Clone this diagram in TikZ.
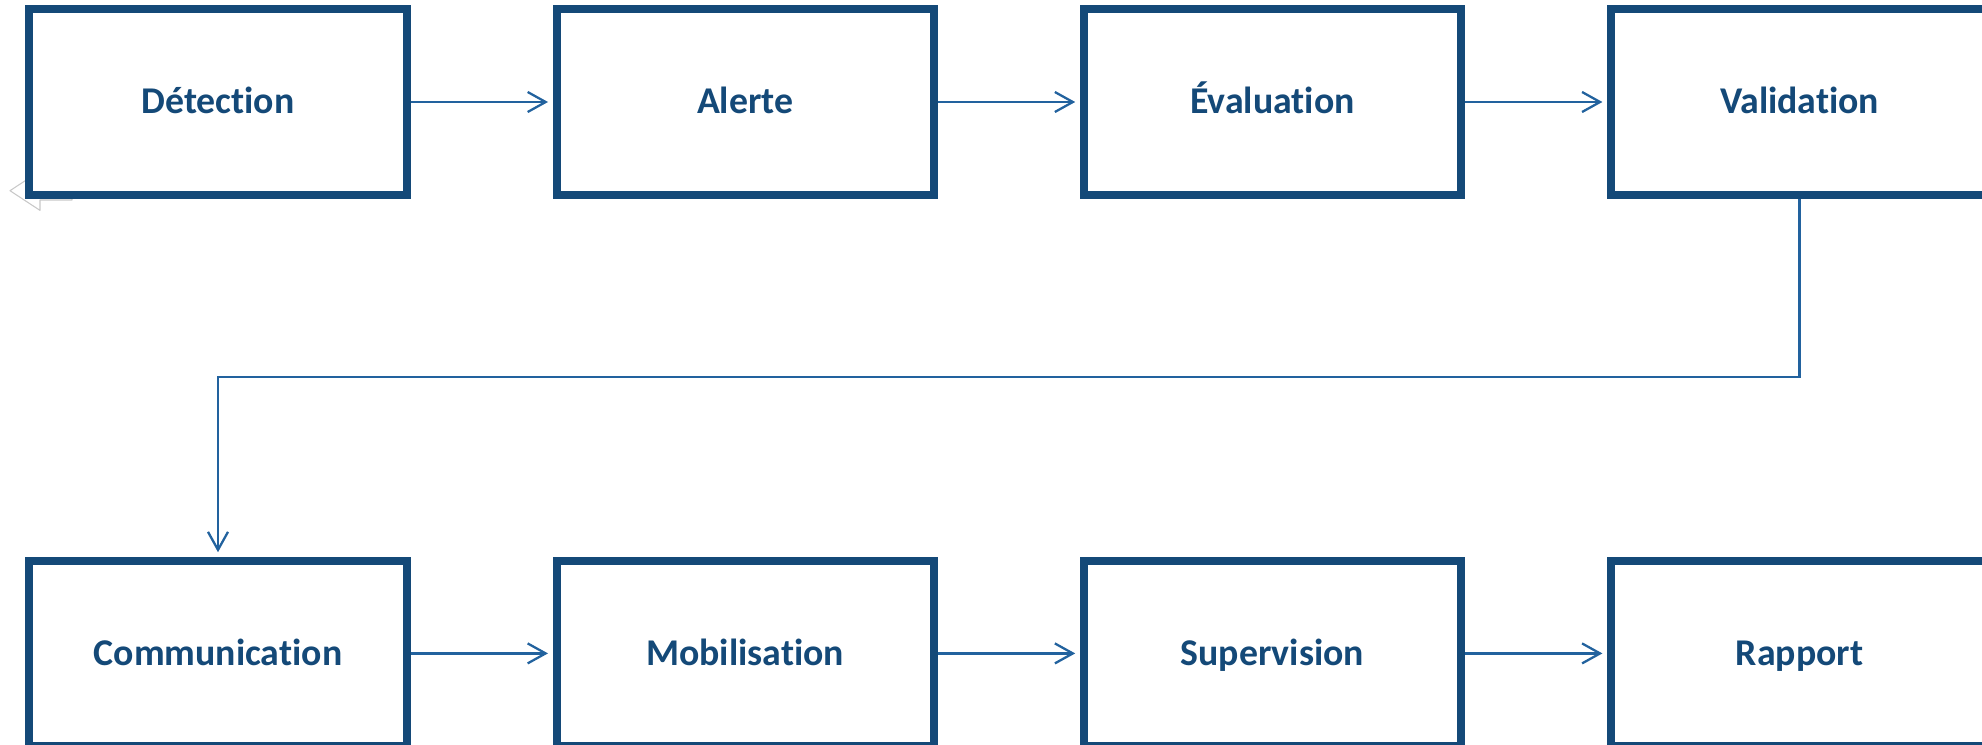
\documentclass[tikz,border=0pt]{standalone}
\usepackage{fontspec}
\setmainfont[Ligatures=NoCommon]{Carlito}
\usepackage{tikz}
\usetikzlibrary{positioning,calc,arrows.meta}

\definecolor{boxblue}{RGB}{20,73,120}
\definecolor{linkblue}{RGB}{34,98,158}
\definecolor{ghostgrey}{RGB}{200,200,200}

\tikzset{
  stepbox/.style={draw=boxblue, line width=4.55pt, fill=white, rectangle,
    minimum width=7.548cm, minimum height=3.708cm, inner sep=0pt,
    text=boxblue, font=\fontsize{21.5}{25}\selectfont\bfseries,
    text height=0.52cm, text depth=0.04cm},
  link/.style={draw=linkblue, line width=1.3pt,
    -{Straight Barb[length=3.6mm,width=4mm]}, shorten >=0.9mm}
}

\begin{document}
\begin{tikzpicture}[node distance=10.544cm]
\useasboundingbox (0,0) rectangle (39.64,-14.9);
% faint arrow left behind the first box
\draw[ghostgrey, line width=0.6pt, line join=round] (0.2,-3.814) -- (0.8,-3.42) -- (0.8,-3.628) -- (1.44,-3.628)
  -- (1.44,-4.0) -- (0.8,-4.0) -- (0.8,-4.208) -- cycle;
\node [stepbox] (det) at (4.36,-2.04) {Détection};
\node [stepbox, right of=det] (alerte) {Alerte};
\node [stepbox, right of=alerte] (eval) {Évaluation};
\node [stepbox, right of=eval] (val) {Validation};
\node [stepbox, below of=det, node distance=11.028cm] (com) {Communication};
\node [stepbox, right of=com] (mob) {Mobilisation};
\node [stepbox, right of=mob] (sup) {Supervision};
\node [stepbox, right of=sup] (rap) {Rapport};
\draw [link] (det) -- (alerte);
\draw [link] (alerte) -- (eval);
\draw [link] (eval) -- (val);
\draw [link] (val.south) -- ++(0,-3.56) -| (com.north);
\draw [link] (com) -- (mob);
\draw [link] (mob) -- (sup);
\draw [link] (sup) -- (rap);
\end{tikzpicture}
\end{document}
